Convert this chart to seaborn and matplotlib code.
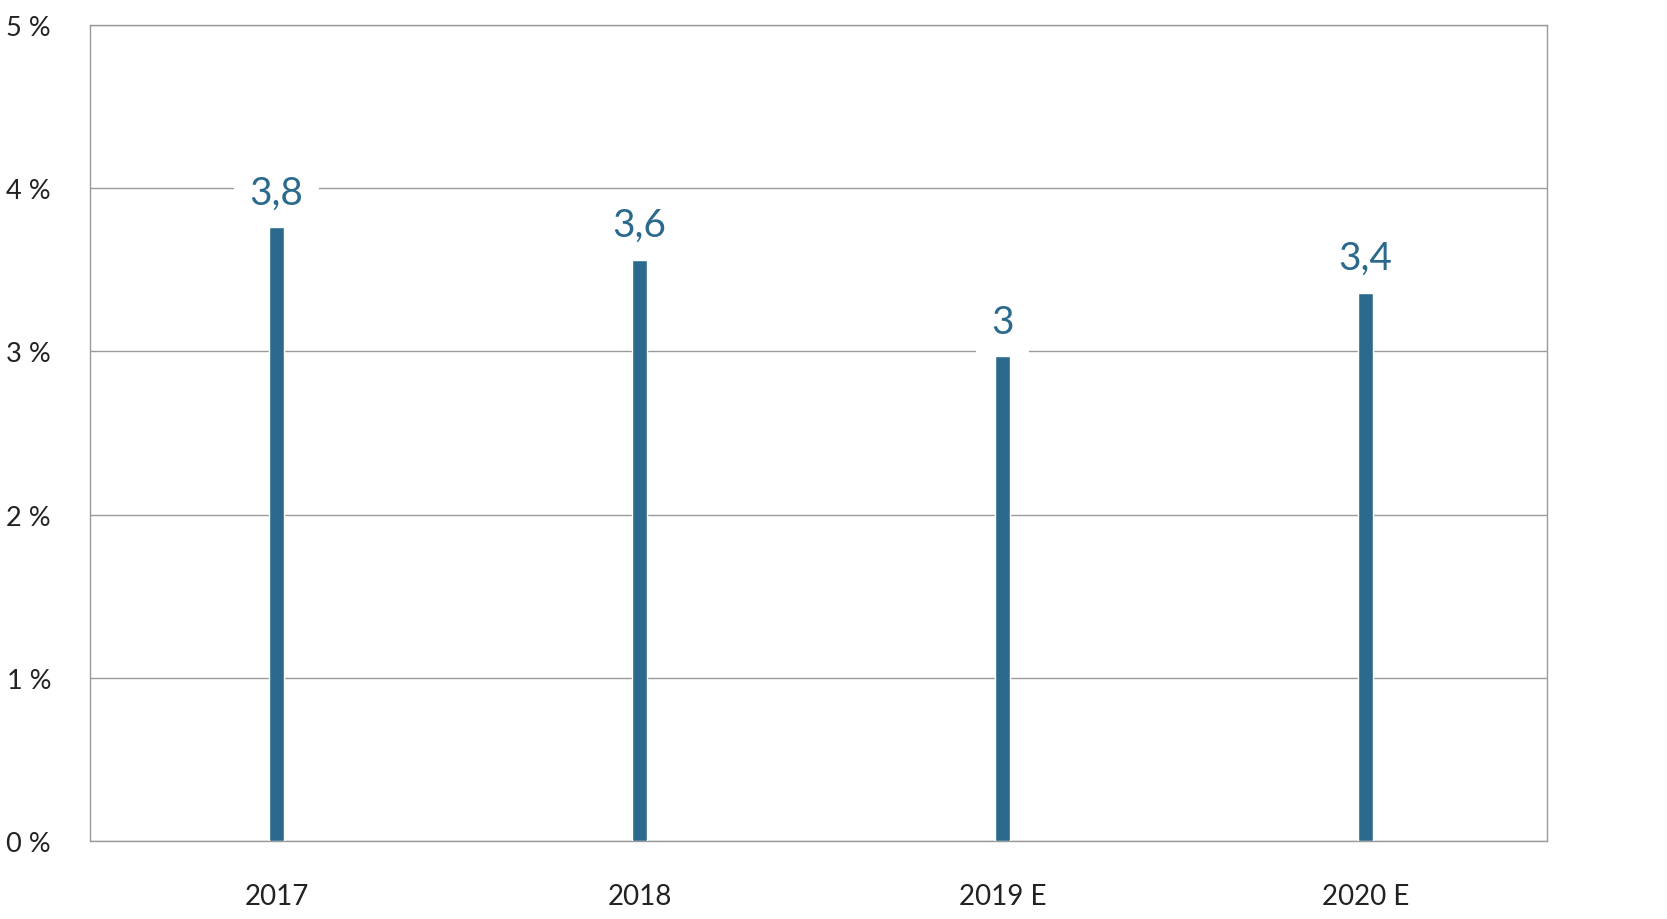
import pandas as pd
import seaborn as sns
import matplotlib.pyplot as plt

# data
years = ['2017', '2018', '2019 E', '2020 E']
growth = [3.76, 3.56, 2.97, 3.36]
value_labels = ['3,8', '3,6', '3', '3,4']
ytick_vals = [0, 1, 2, 3, 4, 5]
ytick_labels = ['0 %', '1 %', '2 %', '3 %', '4 %', '5 %']

df = pd.DataFrame({'year': years, 'growth': growth})

sns.set_style('white')
plt.rcParams['font.family'] = ['Lato', 'DejaVu Sans']

bar_color = '#2b6a8c'
grid_color = '#9a9a9a'

fig = plt.figure(figsize=(16.67, 9.2), dpi=100)
ax = fig.add_axes([90 / 1667, 1 - 842.3 / 920, (1547 - 90) / 1667, (842.3 - 25.7) / 920])

sns.barplot(data=df, x='year', y='growth', color=bar_color, saturation=1,
            width=0.042, ax=ax, zorder=3)

ax.set_xlim(-0.514, 3.5)
ax.set_ylim(0, 5)
ax.set_yticks(ytick_vals)
ax.set_yticklabels(ytick_labels)
ax.yaxis.grid(True, color=grid_color, linewidth=1, zorder=0)
ax.set_axisbelow(True)

for s in ax.spines.values():
    s.set_color(grid_color)
    s.set_linewidth(1)

ax.tick_params(axis='y', length=0, pad=28, labelsize=19.5, labelcolor='#222222')
ax.tick_params(axis='x', length=0, pad=30, labelsize=20, labelcolor='#222222')
ax.set_xlabel('')
ax.set_ylabel('')

# value labels with white box breaking the gridline
for i, (v, lab) in enumerate(zip(growth, value_labels)):
    ax.annotate(lab, xy=(i, v), xytext=(0, 12), textcoords='offset points',
                ha='center', va='bottom', fontsize=28, color=bar_color, zorder=5,
                bbox=dict(boxstyle='square,pad=0.4', facecolor='white', edgecolor='none'))

fig.savefig('out.png', dpi=100)
